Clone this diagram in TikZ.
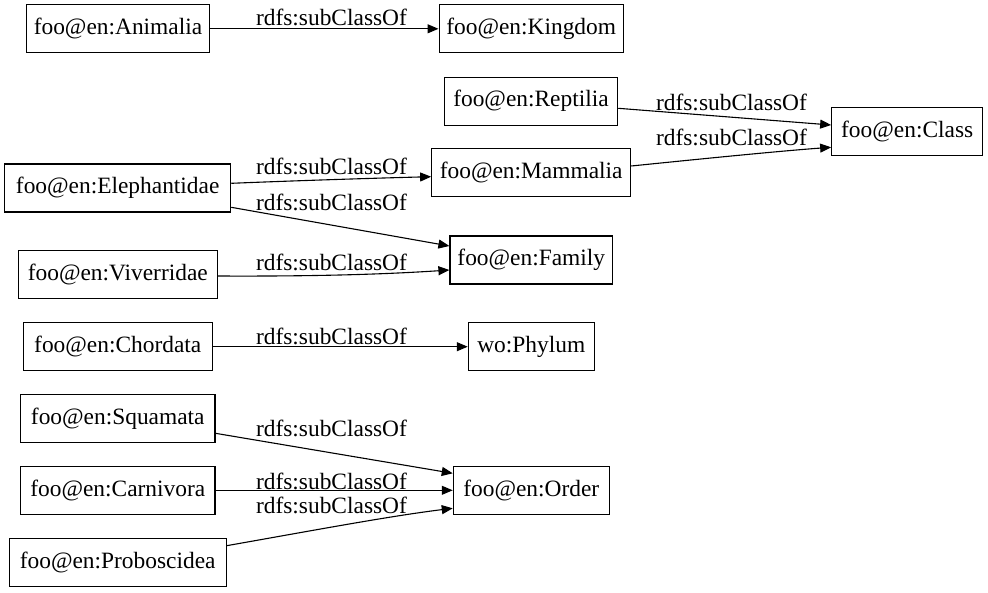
\documentclass[tikz,border=0pt]{standalone}
\usepackage{fontspec}
\setmainfont{Liberation Serif}
\usetikzlibrary{arrows.meta,calc}
\begin{document}
\begin{tikzpicture}[x=1pt,y=-1pt,
  box/.style={draw=black,line width=1.1pt,rectangle,inner sep=0pt,minimum height=48pt,
    font=\fontsize{23.4pt}{28pt}\selectfont},
  lbl/.style={inner sep=0pt,font=\fontsize{23.4pt}{28pt}\selectfont},
  edge/.style={draw=black,line width=1.1pt,-{Triangle[length=11pt,width=9pt]}}]
\useasboundingbox[fill=white] (0,0) rectangle (988,592);
% nodes
\node[box,minimum width=182.6pt] (Ani) at (118,28.8) {foo@en:Animalia};
\node[box,minimum width=184.3pt] (King) at (531.2,28.8) {foo@en:Kingdom};
\node[box,minimum width=173.4pt] (Rep) at (531,101.2) {foo@en:Reptilia};
\node[box,minimum width=151pt] (Cls) at (907.2,131.5) {foo@en:Class};
\node[box,minimum width=226pt] (Eleph) at (117.7,188) {foo@en:Elephantidae};
\node[box,minimum width=199pt] (Mamm) at (531.2,172.8) {foo@en:Mammalia};
\node[box,minimum width=162.7pt] (Fam) at (531.3,260) {foo@en:Family};
\node[box,minimum width=199pt] (Viv) at (117.8,274.5) {foo@en:Viverridae};
\node[box,minimum width=189pt] (Chor) at (117.8,346.7) {foo@en:Chordata};
\node[box,minimum width=126pt] (Phy) at (531.3,346.7) {wo:Phylum};
\node[box,minimum width=194.3pt] (Squ) at (117.8,418.3) {foo@en:Squamata};
\node[box,minimum width=194.3pt] (Carn) at (117.8,490.3) {foo@en:Carnivora};
\node[box,minimum width=156pt] (Ord) at (531.3,490.3) {foo@en:Order};
\node[box,minimum width=216.7pt] (Prob) at (117.7,562.5) {foo@en:Proboscidea};
% edges
\draw[edge] (Ani.east) -- (King.west);
\draw[edge] ($(Rep.east)+(0,7.1)$) -- ($(Cls.west)+(0,-6.5)$);
\draw[edge] ($(Mamm.east)+(0,-6.8)$) .. controls (700,159) and (780,151) .. ($(Cls.west)+(0,15.8)$);
\draw[edge] ($(Eleph.east)+(0,-4.7)$) .. controls (300,180.5) and (380,178) .. ($(Mamm.west)+(0,3.9)$);
\draw[edge] ($(Eleph.east)+(0,19.3)$) -- ($(Fam.west)+(0,-14)$);
\draw[edge] ($(Viv.east)+(0,1.5)$) .. controls (320,276.5) and (390,274) .. ($(Fam.west)+(0,10)$);
\draw[edge] (Chor.east) -- (Phy.west);
\draw[edge] ($(Squ.east)+(0,15)$) -- ($(Ord.west)+(0,-17)$);
\draw[edge] (Carn.east) -- (Ord.west);
\draw[edge] ($(Prob.east)+(0,-16.8)$) .. controls (310,531) and (390,516) .. ($(Ord.west)+(0,18)$);
% labels
\node[lbl] (l1) at (331.5,17.5) {rdfs:subClassOf};
\node[lbl] (l2) at (731.5,102) {rdfs:subClassOf};
\node[lbl] (l3) at (731.5,137) {rdfs:subClassOf};
\node[lbl] (l4) at (331.5,166.7) {rdfs:subClassOf};
\node[lbl] (l5) at (331.5,202.7) {rdfs:subClassOf};
\node[lbl] (l6) at (331.5,262) {rdfs:subClassOf};
\node[lbl] (l7) at (331.5,336) {rdfs:subClassOf};
\node[lbl] (l8) at (331.5,428.3) {rdfs:subClassOf};
\node[lbl] (l9) at (331.5,481) {rdfs:subClassOf};
\node[lbl] (l10) at (331.5,505) {rdfs:subClassOf};
\end{tikzpicture}
\end{document}
